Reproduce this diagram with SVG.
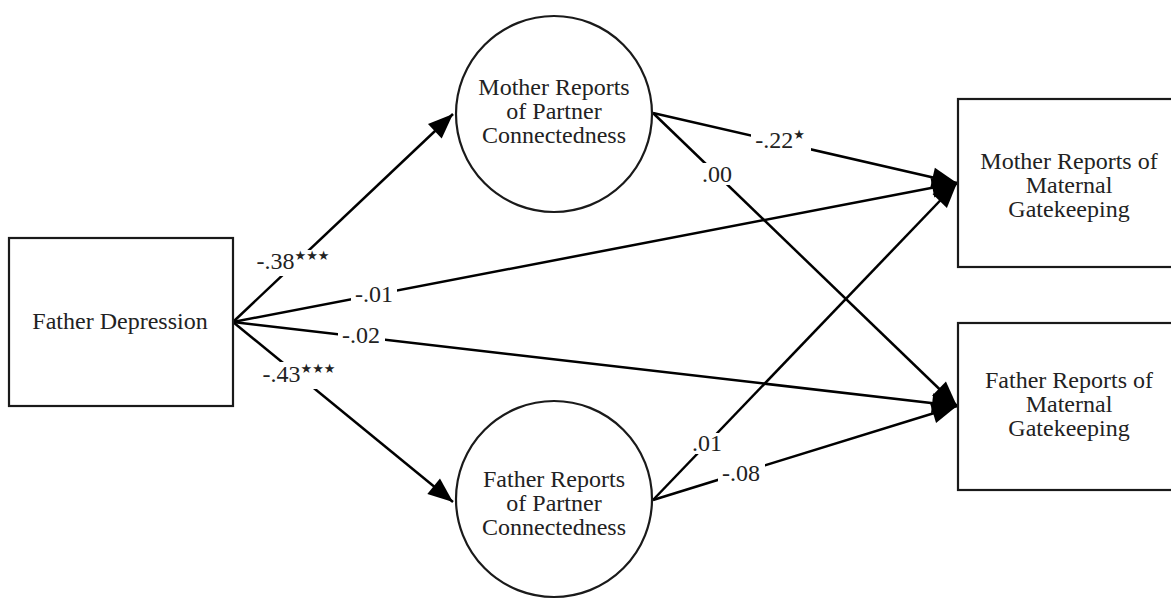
<svg xmlns="http://www.w3.org/2000/svg" width="1171" height="599" viewBox="0 0 1171 599">
<style>
.node{fill:#fff;stroke:#1a1a1a;stroke-width:2.2}
.t{font-family:"Liberation Serif",serif;font-size:24px;fill:#222;text-anchor:middle}
.lbl{font-family:"Liberation Serif",serif;font-size:24px;fill:#222;text-anchor:middle}
.star{font-family:"DejaVu Sans",sans-serif;font-size:13px}
.edge{stroke:#000;stroke-width:2.5;fill:none;marker-end:url(#ah)}
.bg{fill:#fff}
</style>
<defs>
<marker id="ah" markerUnits="userSpaceOnUse" markerWidth="30" markerHeight="24" viewBox="0 -12 26 24" refX="25" refY="0" orient="auto">
<path d="M0,-10 L25,0 L0,10 z" fill="#000"/>
</marker>
</defs>
<g id="connectors">
<line class="edge" x1="233" y1="322" x2="453" y2="114"/>
<line class="edge" x1="233" y1="322" x2="453" y2="502"/>
<line class="edge" x1="233" y1="322" x2="957" y2="183"/>
<line class="edge" x1="233" y1="322" x2="957" y2="406"/>
<line class="edge" x1="653" y1="113" x2="957" y2="183"/>
<line class="edge" x1="653" y1="113" x2="957" y2="406"/>
<line class="edge" x1="653" y1="500" x2="957" y2="183"/>
<line class="edge" x1="653" y1="500" x2="957" y2="406"/>
<g id="labels">
<rect class="bg" x="252" y="250" width="86" height="26"/>
<text class="lbl" x="293" y="269">-.38<tspan class="star" dy="-9">★★★</tspan></text>
<rect class="bg" x="256" y="362" width="88" height="27"/>
<text class="lbl" x="299" y="382">-.43<tspan class="star" dy="-9">★★★</tspan></text>
<rect class="bg" x="351" y="285" width="46" height="20"/>
<text class="lbl" x="374" y="302">-.01</text>
<rect class="bg" x="338" y="325" width="47" height="21"/>
<text class="lbl" x="361" y="343">-.02</text>
<rect class="bg" x="751" y="129" width="60" height="23"/>
<text class="lbl" x="780" y="148">-.22<tspan class="star" dy="-9">★</tspan></text>
<rect class="bg" x="700" y="163" width="35" height="22"/>
<text class="lbl" x="717" y="182">.00</text>
<rect class="bg" x="691" y="433" width="33" height="21"/>
<text class="lbl" x="707" y="451">.01</text>
<rect class="bg" x="718" y="463" width="47" height="21"/>
<text class="lbl" x="741" y="481">-.08</text>
</g>
</g>
<g id="father-depression">
<rect class="node" x="9" y="238" width="224" height="168"/>
<text class="t" x="120" y="329">Father Depression</text>
</g>
<g id="mother-partner-connectedness">
<circle class="node" cx="554" cy="114" r="98"/>
<text class="t" x="554" y="95">Mother Reports</text>
<text class="t" x="554" y="119">of Partner</text>
<text class="t" x="554" y="143">Connectedness</text>
</g>
<g id="father-partner-connectedness">
<circle class="node" cx="554" cy="499" r="98"/>
<text class="t" x="554" y="487">Father Reports</text>
<text class="t" x="554" y="511">of Partner</text>
<text class="t" x="554" y="535">Connectedness</text>
</g>
<g id="mother-maternal-gatekeeping">
<rect class="node" x="958" y="99" width="240" height="168"/>
<text class="t" x="1069" y="169">Mother Reports of</text>
<text class="t" x="1069" y="193">Maternal</text>
<text class="t" x="1069" y="217">Gatekeeping</text>
</g>
<g id="father-maternal-gatekeeping">
<rect class="node" x="958" y="323" width="240" height="167"/>
<text class="t" x="1069" y="388">Father Reports of</text>
<text class="t" x="1069" y="412">Maternal</text>
<text class="t" x="1069" y="436">Gatekeeping</text>
</g>
</svg>
